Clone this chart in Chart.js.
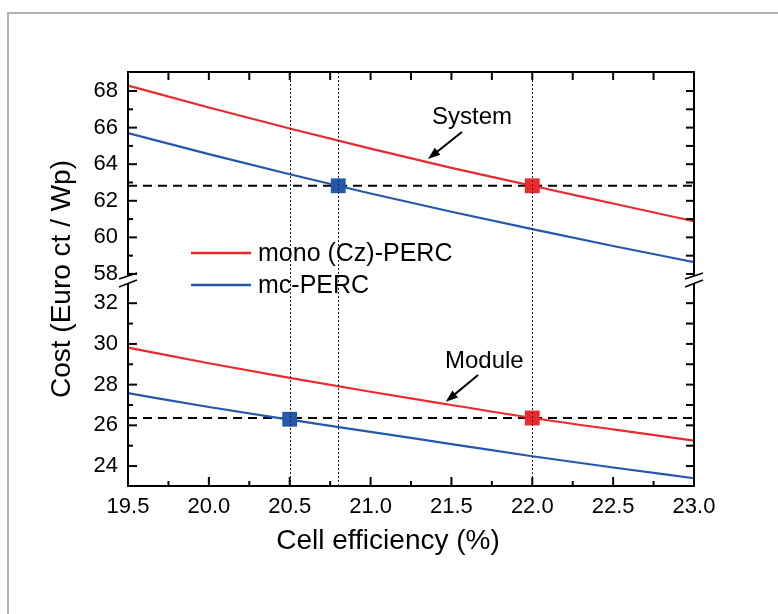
<!DOCTYPE html>
<html>
<head>
<meta charset="utf-8">
<script src="https://cdn.jsdelivr.net/npm/chart.js@4.4.1/dist/chart.umd.min.js"></script>
<style>
  html, body { margin: 0; padding: 0; background: #fff; overflow: hidden; }
  #frame { position: absolute; left: 7px; top: 12px; width: 800px; height: 700px; border: 2px solid #b4b4b4; }
  #costChart { position: absolute; left: 0; top: 0; }
</style>
</head>
<body>
<div id="frame"></div>
<canvas id="costChart" width="778" height="614"></canvas>
<script>
// cell efficiency (%) on the x axis
const efficiency = [19.5, 20.0, 20.5, 21.0, 21.5, 22.0, 22.5, 23.0];

// system cost (Euro ct / Wp), upper panel
const monoSystem = [68.3, 67.1, 65.95, 64.85, 63.8, 62.82, 61.85, 60.88];
const mcSystem   = [65.7, 64.55, 63.45, 62.4, 61.4, 60.45, 59.53, 58.65];

// module cost (Euro ct / Wp), lower panel
const monoModule = [29.82, 29.05, 28.33, 27.65, 27.0, 26.36, 25.8, 25.25];
const mcModule   = [27.58, 26.9, 26.28, 25.68, 25.08, 24.48, 23.93, 23.4];

// equal-cost points and reference lines
const systemLevel = 62.82;
const moduleLevel = 26.36;
const monoSystemPoint = [22.0, 62.82];
const mcSystemPoint = [20.8, 62.82];
const monoModulePoint = [22.0, 26.36];
const mcModulePoint = [20.5, 26.3];
const refEfficiencies = [20.5, 20.8, 22.0];

const xTicks = [19.5, 20.0, 20.5, 21.0, 21.5, 22.0, 22.5, 23.0];
const seriesLabels = ['mono (Cz)-PERC', 'mc-PERC'];

const RED = '#ec2a2e';
const BLUE = '#2358ad';
const FONT = '"Liberation Sans", Arial, sans-serif';

const pts = (xs, ys) => xs.map((x, i) => ({ x: x, y: ys[i] }));

// annotations in data space: [text x, text y, tail x, tail y, tip x, tip y]
const notes = [
    { text: 'System', axis: 'yUp', pos: [21.38, 66.2, 21.565, 65.76, 21.355, 64.29] },
    { text: 'Module', axis: 'yLow', pos: [21.46, 28.83, 21.665, 28.47, 21.465, 27.16] }
];

function seg(ctx, x1, y1, x2, y2) {
    ctx.beginPath();
    ctx.moveTo(x1, y1);
    ctx.lineTo(x2, y2);
    ctx.stroke();
}

const decorations = {
    id: 'decorations',
    afterDatasetsDraw(chart) {
        const { ctx, chartArea: a, scales } = chart;
        const x = scales.x, up = scales.yUp, low = scales.yLow;
        const b = up.bottom;
        ctx.save();

        // dotted vertical reference lines
        ctx.strokeStyle = '#222';
        ctx.lineWidth = 1;
        ctx.setLineDash([2, 2]);
        refEfficiencies.forEach(v => {
            const px = Math.round(x.getPixelForValue(v)) + 0.5;
            seg(ctx, px, a.top, px, a.bottom);
        });
        ctx.setLineDash([]);

        // frame with break
        ctx.strokeStyle = '#000';
        ctx.lineWidth = 2;
        seg(ctx, a.left - 1, a.top, a.right + 1, a.top);
        seg(ctx, a.left - 1, a.bottom, a.right + 1, a.bottom);
        [a.left, a.right].forEach(px => {
            seg(ctx, px, a.top, px, b - 4);
            seg(ctx, px, b + 3, px, a.bottom);
        });

        // x ticks (inward)
        for (let v = 19.5; v <= 23.001; v += 0.25) {
            const px = x.getPixelForValue(v);
            const major = Math.abs(v * 2 - Math.round(v * 2)) < 1e-6;
            seg(ctx, px, a.bottom, px, a.bottom - (major ? 9 : 5));
            seg(ctx, px, a.top, px, a.top + 8);
        }
        // y ticks (inward), both panels
        const yTicks = (scale, from, to) => {
            for (let v = from; v <= to; v++) {
                const py = scale.getPixelForValue(v);
                seg(ctx, a.left, py, a.left + (v % 2 === 0 ? 9 : 5), py);
                seg(ctx, a.right, py, a.right - 8, py);
            }
        };
        yTicks(up, 58, 68);
        yTicks(low, 24, 32);

        // break marks
        ctx.lineWidth = 1.5;
        [a.left, a.right].forEach(px => {
            seg(ctx, px - 9, b - 1, px + 9, b - 7);
            seg(ctx, px - 9, b + 7, px + 9, b);
        });

        // annotations with arrows
        ctx.fillStyle = '#000';
        ctx.font = '24px ' + FONT;
        ctx.textBaseline = 'alphabetic';
        ctx.textAlign = 'left';
        notes.forEach(n => {
            const ys = scales[n.axis];
            const p = n.pos;
            ctx.fillText(n.text, x.getPixelForValue(p[0]), ys.getPixelForValue(p[1]));
            const tx = x.getPixelForValue(p[2]), ty = ys.getPixelForValue(p[3]);
            const hx = x.getPixelForValue(p[4]), hy = ys.getPixelForValue(p[5]);
            const ang = Math.atan2(hy - ty, hx - tx);
            ctx.lineWidth = 2;
            seg(ctx, tx, ty, hx - 8 * Math.cos(ang), hy - 8 * Math.sin(ang));
            ctx.beginPath();
            ctx.moveTo(hx, hy);
            ctx.lineTo(hx - 13 * Math.cos(ang - 0.35), hy - 13 * Math.sin(ang - 0.35));
            ctx.lineTo(hx - 13 * Math.cos(ang + 0.35), hy - 13 * Math.sin(ang + 0.35));
            ctx.closePath();
            ctx.fill();
        });
        ctx.restore();
    },
    afterDraw(chart) {
        const { ctx, chartArea: a } = chart;
        ctx.save();
        ctx.fillStyle = '#000';

        // legend
        ctx.font = '25px ' + FONT;
        ctx.textAlign = 'left';
        ctx.textBaseline = 'middle';
        ctx.lineWidth = 2.5;
        [RED, BLUE].forEach((c, i) => {
            const y = 253 + i * 32;
            ctx.strokeStyle = c;
            seg(ctx, 191, y, 251, y);
            ctx.fillText(seriesLabels[i], 258, y + 1);
        });

        // axis titles
        ctx.font = '28px ' + FONT;
        ctx.textAlign = 'center';
        ctx.fillText('Cell efficiency (%)', 388, 541);
        ctx.translate(62, (a.top + a.bottom) / 2);
        ctx.rotate(-Math.PI / 2);
        ctx.fillText('Cost (Euro ct / Wp)', 0, 0);
        ctx.restore();
    }
};

const lineStyle = { pointRadius: 0, borderWidth: 2.2, cubicInterpolationMode: 'monotone', order: 1 };
const dashStyle = { pointRadius: 0, borderWidth: 2, borderColor: '#000', borderDash: [9, 6], order: 2 };
const markStyle = { showLine: false, pointStyle: 'rect', pointRadius: 10.5, pointBorderWidth: 0, order: 0 };

const yBase = {
    type: 'linear',
    position: 'left',
    stack: 'cost',
    grid: { display: false, drawTicks: false },
    border: { display: false },
    ticks: { stepSize: 2, includeBounds: false, autoSkip: false, padding: 10, color: '#000', font: { size: 22, family: FONT } },
    afterFit(s) { s.width = 128; }
};

new Chart(document.getElementById('costChart'), {
    type: 'line',
    data: {
        datasets: [
            { ...markStyle, data: [{ x: monoSystemPoint[0], y: monoSystemPoint[1] }], yAxisID: 'yUp', backgroundColor: RED },
            { ...markStyle, data: [{ x: mcSystemPoint[0], y: mcSystemPoint[1] }], yAxisID: 'yUp', backgroundColor: BLUE },
            { ...markStyle, data: [{ x: monoModulePoint[0], y: monoModulePoint[1] }], yAxisID: 'yLow', backgroundColor: RED },
            { ...markStyle, data: [{ x: mcModulePoint[0], y: mcModulePoint[1] }], yAxisID: 'yLow', backgroundColor: BLUE },
            { ...lineStyle, label: seriesLabels[0], data: pts(efficiency, monoSystem), yAxisID: 'yUp', borderColor: RED },
            { ...lineStyle, label: seriesLabels[1], data: pts(efficiency, mcSystem), yAxisID: 'yUp', borderColor: BLUE },
            { ...lineStyle, label: seriesLabels[0], data: pts(efficiency, monoModule), yAxisID: 'yLow', borderColor: RED },
            { ...lineStyle, label: seriesLabels[1], data: pts(efficiency, mcModule), yAxisID: 'yLow', borderColor: BLUE },
            { ...dashStyle, data: [{ x: 19.5, y: systemLevel }, { x: 23.0, y: systemLevel }], yAxisID: 'yUp' },
            { ...dashStyle, data: [{ x: 19.5, y: moduleLevel }, { x: 23.0, y: moduleLevel }], yAxisID: 'yLow' }
        ]
    },
    options: {
        responsive: false,
        animation: false,
        layout: { padding: { top: 72, right: 84, left: 0, bottom: 0 } },
        plugins: { legend: { display: false }, tooltip: { enabled: false } },
        scales: {
            x: {
                type: 'linear',
                min: 19.5,
                max: 23.0,
                grid: { display: false, drawTicks: false },
                border: { display: false },
                afterBuildTicks(s) { s.ticks = xTicks.map(v => ({ value: v })); },
                ticks: {
                    padding: 8, autoSkip: false, maxRotation: 0, color: '#000',
                    font: { size: 22, family: FONT },
                    callback: v => Number(v).toFixed(1)
                },
                afterFit(s) { s.height = 128; }
            },
            yUp: { ...yBase, min: 57.67, max: 69.04, stackWeight: 208, weight: 1 },
            yLow: { ...yBase, min: 23.02, max: 33.14, stackWeight: 206, weight: 0 }
        }
    },
    plugins: [decorations]
});
</script>
</body>
</html>
